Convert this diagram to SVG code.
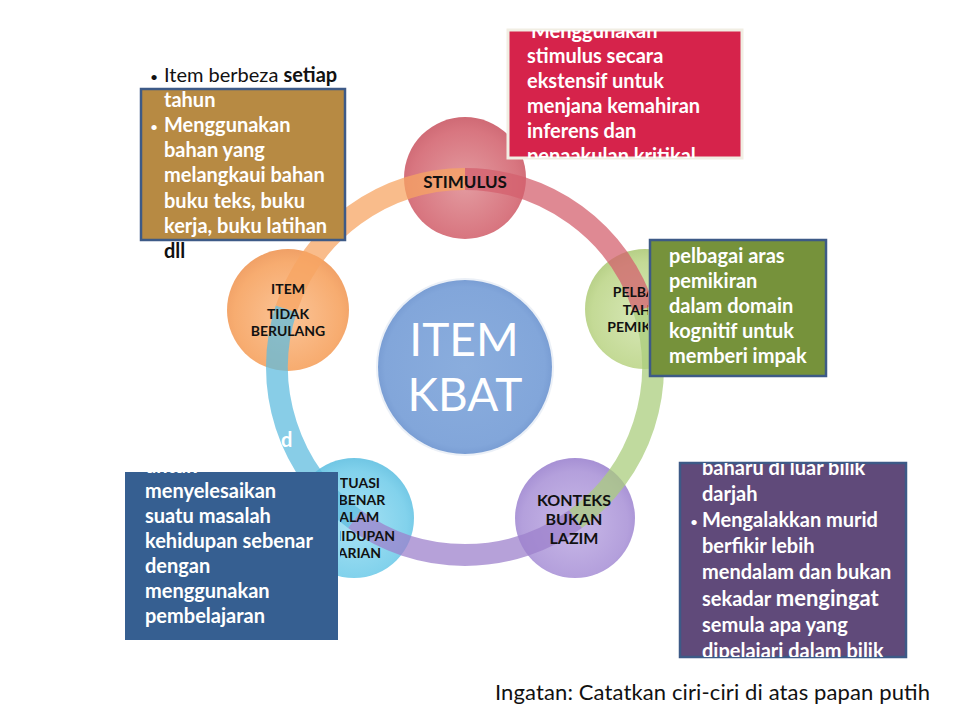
<svg xmlns="http://www.w3.org/2000/svg" width="960" height="720" viewBox="0 0 960 720">
<style>
.bt{font-family:Lato,"Open Sans","Liberation Sans",sans-serif;font-weight:700;font-size:20px;fill:#ffffff}
.dk{fill:#111111}
.rg{font-weight:400}
.bl{font-size:14px;font-weight:400}
.nl{font-family:Lato,"Open Sans","Liberation Sans",sans-serif;font-weight:700;fill:#111111;text-anchor:middle}
.arc{fill:none;stroke-width:22;opacity:0.74}
.box{stroke:#3d5a87;stroke-width:2.5}
</style>
<defs>
<radialGradient id="gR" cx="50%" cy="55%" r="55%"><stop offset="0" stop-color="#e39ba0"/><stop offset="0.8" stop-color="#d87680"/><stop offset="1" stop-color="#cf6a75"/></radialGradient>
<radialGradient id="gO" cx="50%" cy="55%" r="55%"><stop offset="0" stop-color="#fbc497"/><stop offset="0.8" stop-color="#f7ac70"/><stop offset="1" stop-color="#f0a066"/></radialGradient>
<radialGradient id="gG" cx="50%" cy="55%" r="55%"><stop offset="0" stop-color="#d8e8b8"/><stop offset="0.8" stop-color="#c4da96"/><stop offset="1" stop-color="#b6cf86"/></radialGradient>
<radialGradient id="gP" cx="50%" cy="55%" r="55%"><stop offset="0" stop-color="#c9b9e8"/><stop offset="0.8" stop-color="#b4a0dc"/><stop offset="1" stop-color="#a690d4"/></radialGradient>
<radialGradient id="gB" cx="50%" cy="55%" r="55%"><stop offset="0" stop-color="#a8e2f4"/><stop offset="0.8" stop-color="#82d2ec"/><stop offset="1" stop-color="#70c6e4"/></radialGradient>
<radialGradient id="gC" cx="50%" cy="50%" r="50%"><stop offset="0" stop-color="#8aaddd"/><stop offset="0.92" stop-color="#82a6da"/><stop offset="1" stop-color="#7a9ed4"/></radialGradient>
<clipPath id="cRed"><rect x="508" y="30" width="234" height="128"/></clipPath>
<clipPath id="cBlue"><rect x="125" y="472" width="213" height="168"/></clipPath>
<clipPath id="cPur"><rect x="680" y="463" width="226" height="194"/></clipPath>
<clipPath id="cPelb"><rect x="560" y="240" width="88" height="140"/></clipPath>
<clipPath id="cSit"><rect x="340" y="460" width="80" height="120"/></clipPath>
</defs>
<rect width="960" height="720" fill="#ffffff"/>

<g id="center">
<circle cx="465" cy="367" r="89" fill="#d8e2f0" opacity="0.5"/>
<circle cx="465" cy="367" r="87" fill="url(#gC)"/>
<text x="464" y="356" text-anchor="middle" font-family="Lato,'Open Sans','Liberation Sans',sans-serif" font-size="46" fill="#ffffff">ITEM</text>
<text x="465" y="411" text-anchor="middle" font-family="Lato,'Open Sans','Liberation Sans',sans-serif" font-size="46" fill="#ffffff">KBAT</text>
</g>

<g id="node-stimulus"><circle cx="465" cy="178" r="61" fill="url(#gR)"/></g>
<g id="node-pelbagai"><circle cx="645" cy="309" r="60" fill="url(#gG)"/></g>
<g id="node-konteks"><circle cx="575" cy="518" r="60" fill="url(#gP)"/></g>
<g id="node-situasi"><circle cx="354" cy="518" r="60" fill="url(#gB)"/></g>
<g id="node-item"><circle cx="288" cy="310" r="61" fill="url(#gO)"/></g>

<g id="connectors">
<path class="arc" stroke="#d4606d" d="M465,179 A188,188 0 0 1 643.8,308.9"/>
<path class="arc" stroke="#aacd7c" d="M643.8,308.9 A188,188 0 0 1 575.5,519.1"/>
<path class="arc" stroke="#9c80cc" d="M575.5,519.1 A188,188 0 0 1 354.5,519.1"/>
<path class="arc" stroke="#5fbcdf" d="M354.5,519.1 A188,188 0 0 1 286.2,308.9"/>
<path class="arc" stroke="#f7a463" d="M286.2,308.9 A188,188 0 0 1 465,179"/>
</g>

<g id="labels">
<text class="nl" x="465" y="188" font-size="17">STIMULUS</text>
<text class="nl" x="288" y="294" font-size="14">ITEM</text>
<text class="nl" x="288" y="319" font-size="14">TIDAK</text>
<text class="nl" x="288" y="336" font-size="14">BERULANG</text>
<g clip-path="url(#cPelb)">
<text class="nl" x="646" y="297" font-size="14">PELBAGAI</text>
<text class="nl" x="646" y="315" font-size="14">TAHAP</text>
<text class="nl" x="646" y="332" font-size="14">PEMIKIRAN</text>
</g>
<g clip-path="url(#cSit)">
<text class="nl" x="354" y="488" font-size="14">SITUASI</text>
<text class="nl" x="354" y="505" font-size="14">SEBENAR</text>
<text class="nl" x="354" y="522" font-size="14">DALAM</text>
<text class="nl" x="354" y="541" font-size="14">KEHIDUPAN</text>
<text class="nl" x="354" y="558" font-size="14">HARIAN</text>
</g>
<text class="nl" x="574" y="506" font-size="16">KONTEKS</text>
<text class="nl" x="574" y="525" font-size="16">BUKAN</text>
<text class="nl" x="574" y="544" font-size="16">LAZIM</text>
</g>

<g id="box-stimulus">
<rect x="508" y="30" width="234" height="128" fill="#d6234b" stroke="#f1eee3" stroke-width="3"/>
<g clip-path="url(#cRed)">
<text class="bt" x="531" y="38">Menggunakan</text>
<text class="bt" x="527" y="63">stimulus  secara</text>
<text class="bt" x="527" y="88">ekstensif untuk</text>
<text class="bt" x="527" y="113">menjana kemahiran</text>
<text class="bt" x="527" y="138">inferens dan</text>
<text class="bt" x="527" y="163">penaakulan  kritikal</text>
</g>
</g>

<g id="box-item">
<rect class="box" x="141" y="89" width="204" height="151" fill="#b78a43"/>
<text class="bt dk" x="150" y="82"><tspan class="bl">•</tspan><tspan class="rg" x="164">Item berbeza </tspan>setiap</text>
<text class="bt" x="164" y="107">tahun</text>
<text class="bt" x="150" y="132"><tspan class="bl">•</tspan><tspan x="164">Menggunakan</tspan></text>
<text class="bt" x="164" y="157">bahan  yang</text>
<text class="bt" x="164" y="182">melangkaui  bahan</text>
<text class="bt" x="164" y="208">buku teks, buku</text>
<text class="bt" x="164" y="233">kerja, buku latihan</text>
<text class="bt dk" x="164" y="258">dll</text>
</g>

<g id="box-pelbagai">
<rect class="box" x="650" y="240" width="176" height="136" fill="#76923b"/>
<text class="bt" x="669" y="263">pelbagai  aras</text>
<text class="bt" x="669" y="288">pemikiran</text>
<text class="bt" x="669" y="313">dalam  domain</text>
<text class="bt" x="669" y="338">kognitif  untuk</text>
<text class="bt" x="669" y="363">memberi impak</text>
</g>

<g id="box-situasi">
<text class="bt" x="281" y="447">d</text>
<rect x="125" y="472" width="213" height="168" fill="#365f91"/>
<g clip-path="url(#cBlue)">
<text class="bt" x="145" y="473">untuk</text>
<text class="bt" x="145" y="498">menyelesaikan</text>
<text class="bt" x="145" y="523">suatu  masalah</text>
<text class="bt" x="145" y="548">kehidupan  sebenar</text>
<text class="bt" x="145" y="573">dengan</text>
<text class="bt" x="145" y="598">menggunakan</text>
<text class="bt" x="145" y="623">pembelajaran</text>
</g>
</g>

<g id="box-konteks">
<rect class="box" x="680" y="463" width="226" height="194" fill="#604a7a"/>
<g clip-path="url(#cPur)">
<text class="bt" x="702" y="475">baharu  di luar bilik</text>
<text class="bt" x="702" y="501">darjah</text>
<text class="bt" x="690" y="527"><tspan class="bl">•</tspan><tspan x="702">Mengalakkan  murid</tspan></text>
<text class="bt" x="702" y="553">berfikir lebih</text>
<text class="bt" x="702" y="579">mendalam  dan  bukan</text>
<text class="bt" x="702" y="606">sekadar <tspan font-size="22">mengingat</tspan></text>
<text class="bt" x="702" y="632">semula apa yang</text>
<text class="bt" x="702" y="658">dipelajari  dalam  bilik</text>
</g>
</g>

<text x="495" y="700" font-family="Lato,'Open Sans','Liberation Sans',sans-serif" font-size="22" textLength="435" fill="#111111">Ingatan: Catatkan ciri-ciri di atas papan putih</text>
</svg>
